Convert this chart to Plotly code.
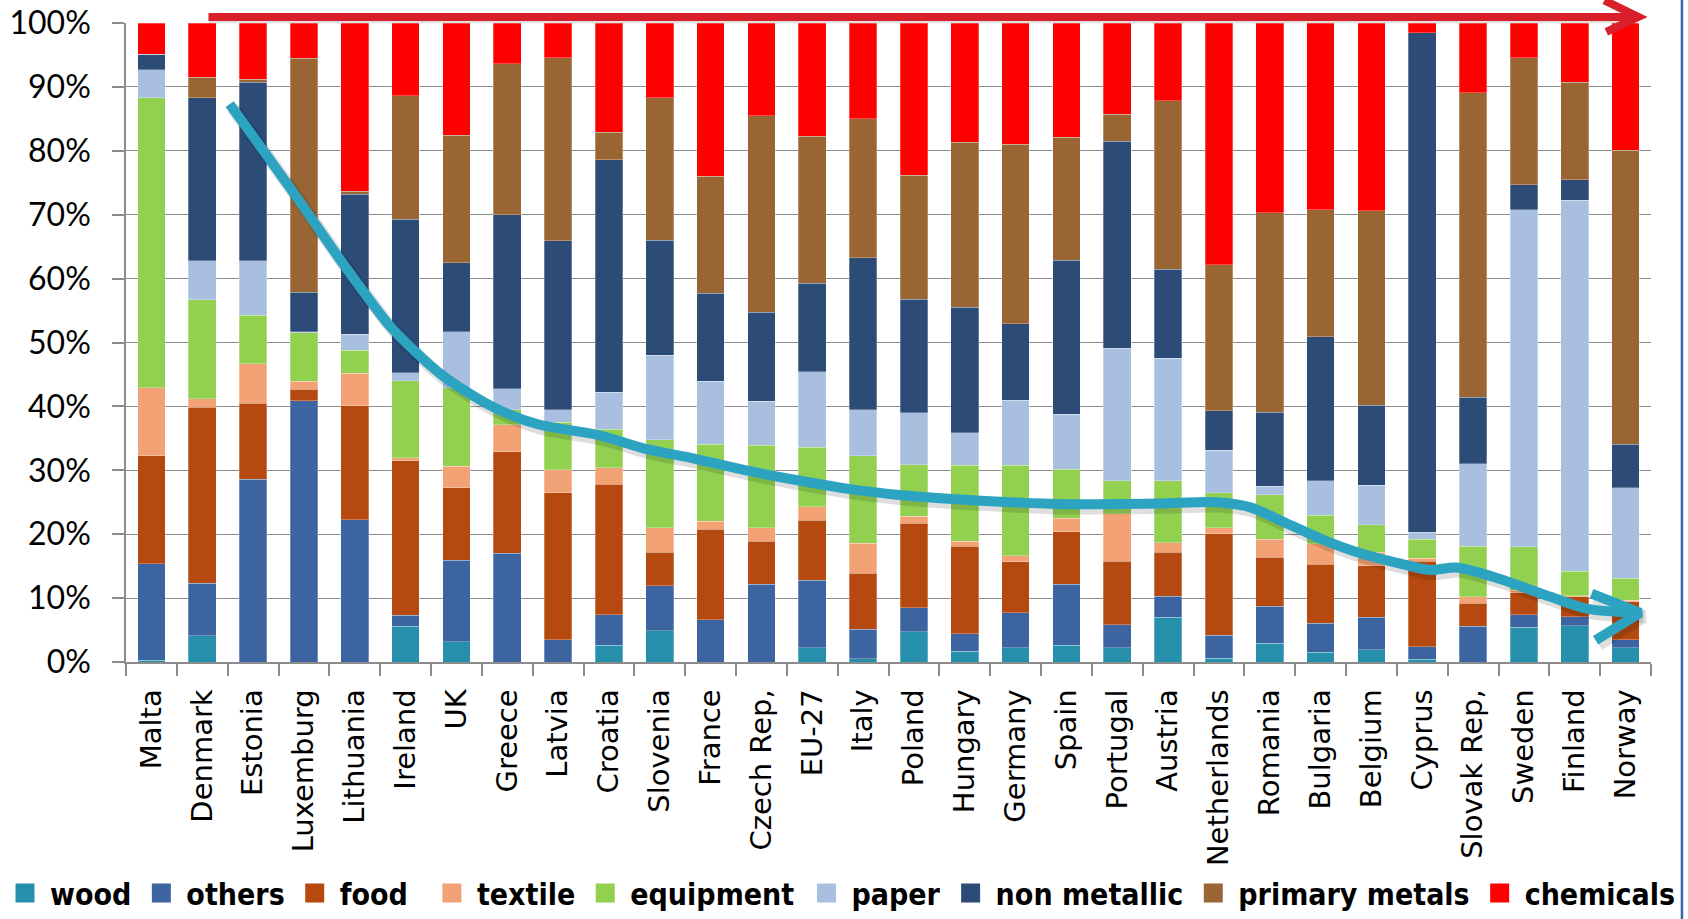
import plotly.graph_objects as go

countries = ["Malta", "Denmark", "Estonia", "Luxemburg", "Lithuania", "Ireland", "UK", "Greece",
             "Latvia", "Croatia", "Slovenia", "France", "Czech Rep,", "EU-27", "Italy", "Poland",
             "Hungary", "Germany", "Spain", "Portugal", "Austria", "Netherlands", "Romania",
             "Bulgaria", "Belgium", "Cyprus", "Slovak Rep,", "Sweden", "Finland", "Norway"]

wood = [0.3, 4.1, 0, 0, 0, 5.6, 3.2, 0, 0, 2.6, 4.9, 0, 0, 2.2, 0.5, 4.7, 1.7, 2.2, 2.6, 2.2,
        7.0, 0.6, 2.9, 1.5, 1.9, 0.4, 0, 5.4, 5.7, 2.2]
others = [15.1, 8.2, 28.6, 40.9, 22.3, 1.7, 12.7, 17.0, 3.5, 4.8, 7.0, 6.6, 12.2, 10.6, 4.6, 3.8,
          2.7, 5.5, 9.6, 3.6, 3.3, 3.6, 5.8, 4.6, 5.1, 2.0, 5.6, 2.0, 1.4, 1.3]
food = [16.9, 27.6, 11.9, 1.8, 17.8, 24.2, 11.4, 15.9, 23.0, 20.4, 5.3, 14.2, 6.7, 9.4, 8.8, 13.2,
        13.7, 8.0, 8.2, 10.0, 6.9, 15.9, 7.7, 9.2, 8.1, 13.4, 3.6, 3.4, 3.1, 5.9]
textile = [10.6, 1.3, 6.2, 1.2, 5.1, 0.5, 3.3, 4.2, 3.6, 2.6, 3.8, 1.2, 2.1, 2.1, 4.7, 1.1, 0.8,
           0.9, 2.1, 7.4, 1.5, 0.9, 2.8, 3.2, 2.1, 0.4, 1.0, 0.4, 0.2, 0.3]
equipment = [45.4, 15.5, 7.6, 7.6, 3.6, 12.0, 12.3, 2.4, 7.4, 6.0, 13.8, 12.1, 12.9, 9.3, 13.7,
             8.1, 11.9, 14.2, 7.7, 5.2, 9.7, 5.5, 7.0, 4.5, 4.3, 3.0, 7.9, 6.8, 3.8, 3.4]
paper = [4.4, 6.1, 8.5, 0.2, 2.5, 1.3, 8.8, 3.3, 2.0, 5.8, 13.2, 9.8, 6.9, 11.8, 7.2, 8.1, 5.1,
         10.2, 8.6, 20.7, 19.1, 6.6, 1.3, 5.4, 6.2, 1.1, 12.9, 52.8, 58.1, 14.2]
non_metallic = [2.4, 25.5, 27.9, 6.2, 21.9, 24.0, 10.8, 27.2, 26.4, 36.4, 18.0, 13.8, 13.9, 13.9,
                23.8, 17.8, 19.6, 11.9, 24.1, 32.4, 14.0, 6.2, 11.6, 22.5, 12.5, 78.2, 10.4, 3.9,
                3.2, 6.8]
primary_metals = [0, 3.2, 0.5, 36.6, 0.5, 19.3, 19.9, 23.6, 28.7, 4.3, 22.3, 18.3, 30.8, 23.0,
                  21.7, 19.4, 25.8, 28.1, 19.2, 4.2, 26.3, 22.9, 31.2, 19.9, 30.4, 0, 47.7, 19.9,
                  15.2, 46.0]
chemicals = [4.9, 8.5, 8.8, 5.5, 26.3, 11.4, 17.6, 6.4, 5.4, 17.1, 11.7, 24.0, 14.5, 17.7, 15.0,
             23.8, 18.7, 19.0, 17.9, 14.3, 12.2, 37.8, 29.7, 29.2, 29.4, 1.5, 10.9, 5.4, 9.3, 19.9]

series_names = ["wood", "others", "food", "textile", "equipment", "paper", "non metallic",
                "primary metals", "chemicals"]
series_values = [wood, others, food, textile, equipment, paper, non_metallic, primary_metals,
                 chemicals]
series_colors = ["#268FAB", "#3B64A0", "#B5490F", "#F2A275", "#92D050", "#A9BFE0", "#2C4B76",
                 "#996633", "#FF0000"]
# which of the three legend blocks each series is listed in
series_legend = ["legend", "legend", "legend", "legend2", "legend2", "legend3", "legend3",
                 "legend3", "legend3"]

# hand-drawn trend arrow (x in category index units, y in %)
trend_x = [1.54, 2.7, 3.8, 4.7, 5.2, 5.7, 6.2, 6.8, 7.6, 8.8, 9.7, 10.7, 11.76, 12.74, 13.71,
           14.77, 15.75, 16.88, 17.99, 19.8, 20.95, 21.62, 22.36, 23.09, 23.83, 24.57, 25.16,
           25.67, 26.41, 27.52, 28.26, 29.29]
trend_y = [87.3, 74.5, 62.0, 52.5, 48.5, 45.0, 42.3, 39.6, 37.2, 35.5, 33.4, 31.8, 29.9, 28.4,
           27.1, 26.1, 25.5, 25.0, 24.7, 24.8, 25.0, 24.2, 21.6, 19.0, 16.9, 15.4, 14.4, 14.8,
           13.3, 10.2, 8.3, 7.7]
head_x = [28.33, 29.29, 28.41]
head_y = [10.7, 7.7, 3.4]

GRID = "#8C8C8C"

fig = go.Figure()
for name, vals, col, lg in zip(series_names, series_values, series_colors, series_legend):
    fig.add_trace(go.Bar(
        x=countries, y=vals, name=name, legendgroup=name, showlegend=False,
        marker=dict(color=col, line=dict(color="rgba(255,255,255,0.35)", width=0.8)),
    ))
    # legend entry (square swatch)
    fig.add_trace(go.Scatter(
        x=[None], y=[None], xaxis="x2", yaxis="y", mode="markers", name=name,
        legendgroup=name, legend=lg, showlegend=True,
        marker=dict(symbol="square", size=16, color=col, line=dict(color=col, width=3)),
    ))

teal = "#2DA3C2"
shadow = "rgba(0,0,0,0.13)"
fig.add_trace(go.Scatter(
    x=[v + 0.06 for v in trend_x], y=[v - 0.6 for v in trend_y], xaxis="x2", yaxis="y",
    mode="lines", line=dict(color=shadow, width=13, shape="spline", smoothing=0.8),
    showlegend=False, hoverinfo="skip", cliponaxis=False))
fig.add_trace(go.Scatter(
    x=[v + 0.06 for v in head_x], y=[v - 0.6 for v in head_y], xaxis="x2", yaxis="y",
    mode="lines", line=dict(color=shadow, width=13),
    showlegend=False, hoverinfo="skip", cliponaxis=False))
fig.add_trace(go.Scatter(
    x=trend_x, y=trend_y, xaxis="x2", yaxis="y", mode="lines",
    line=dict(color=teal, width=10, shape="spline", smoothing=0.8),
    showlegend=False, hoverinfo="skip", cliponaxis=False))
fig.add_trace(go.Scatter(
    x=head_x, y=head_y, xaxis="x2", yaxis="y", mode="lines",
    line=dict(color=teal, width=10),
    showlegend=False, hoverinfo="skip", cliponaxis=False))

red = "#D81F2A"
shapes = [
    dict(type="line", xref="paper", yref="paper", x0=0.0541, x1=0.990, y0=1.0060, y1=1.0060,
         line=dict(color="rgba(0,0,0,0.12)", width=8)),
    dict(type="line", xref="paper", yref="paper", x0=0.0541, x1=0.990, y0=1.0094, y1=1.0094,
         line=dict(color=red, width=8)),
    dict(type="path", xref="paper", yref="paper",
         path="M 0.9694,1.0355 L 0.9917,1.0094 L 0.9707,0.986",
         line=dict(color=red, width=8), fillcolor="rgba(0,0,0,0)"),
    dict(type="line", xref="paper", yref="paper", x0=1.0203, x1=1.0203, y0=-0.45, y1=1.1,
         line=dict(color="#3C64AA", width=2.5)),
]

legend_font = dict(family="Liberation Sans Narrow, DejaVu Sans Condensed, sans-serif",
                   size=30, color="black", weight="bold")
legend_common = dict(orientation="h", xref="container", yref="container", xanchor="left",
                     y=-0.0054, yanchor="bottom", traceorder="normal",
                     bgcolor="rgba(0,0,0,0)", itemwidth=40, font=legend_font)

fig.update_layout(
    width=1688, height=919,
    margin=dict(l=126, r=37, t=23, b=257, pad=0, autoexpand=False),
    paper_bgcolor="white", plot_bgcolor="white",
    barmode="stack", bargap=0.457,
    shapes=shapes,
    xaxis=dict(type="category", range=[-0.5, 29.5], tickson="boundaries", ticks="outside",
               ticklen=12, tickcolor=GRID, tickwidth=1.5, showline=True, linecolor=GRID,
               linewidth=1.5, showgrid=False, tickangle=-90, ticklabelstandoff=14,
               automargin=False,
               tickfont=dict(family="DejaVu Sans, Verdana, sans-serif", size=29, color="black")),
    xaxis2=dict(overlaying="x", range=[-0.5, 29.5], visible=False, type="linear"),
    yaxis=dict(range=[0, 100], dtick=10, ticksuffix="%", showgrid=True, gridcolor=GRID,
               gridwidth=1.3, ticks="outside", ticklen=12, tickcolor=GRID, tickwidth=1.5,
               showline=True, linecolor=GRID, linewidth=1.5, zeroline=False,
               ticklabelstandoff=15, automargin=False,
               tickfont=dict(family="Lato, Open Sans, sans-serif", size=32, color="black")),
    legend=dict(x=-0.0086, **legend_common),
    legend2=dict(x=0.2529, **legend_common),
    legend3=dict(x=0.4748, **legend_common),
    showlegend=True,
)

fig.write_html("out.html", config={"displayModeBar": False},
               post_script="document.body.style.margin='0';document.body.style.overflow='hidden';")
